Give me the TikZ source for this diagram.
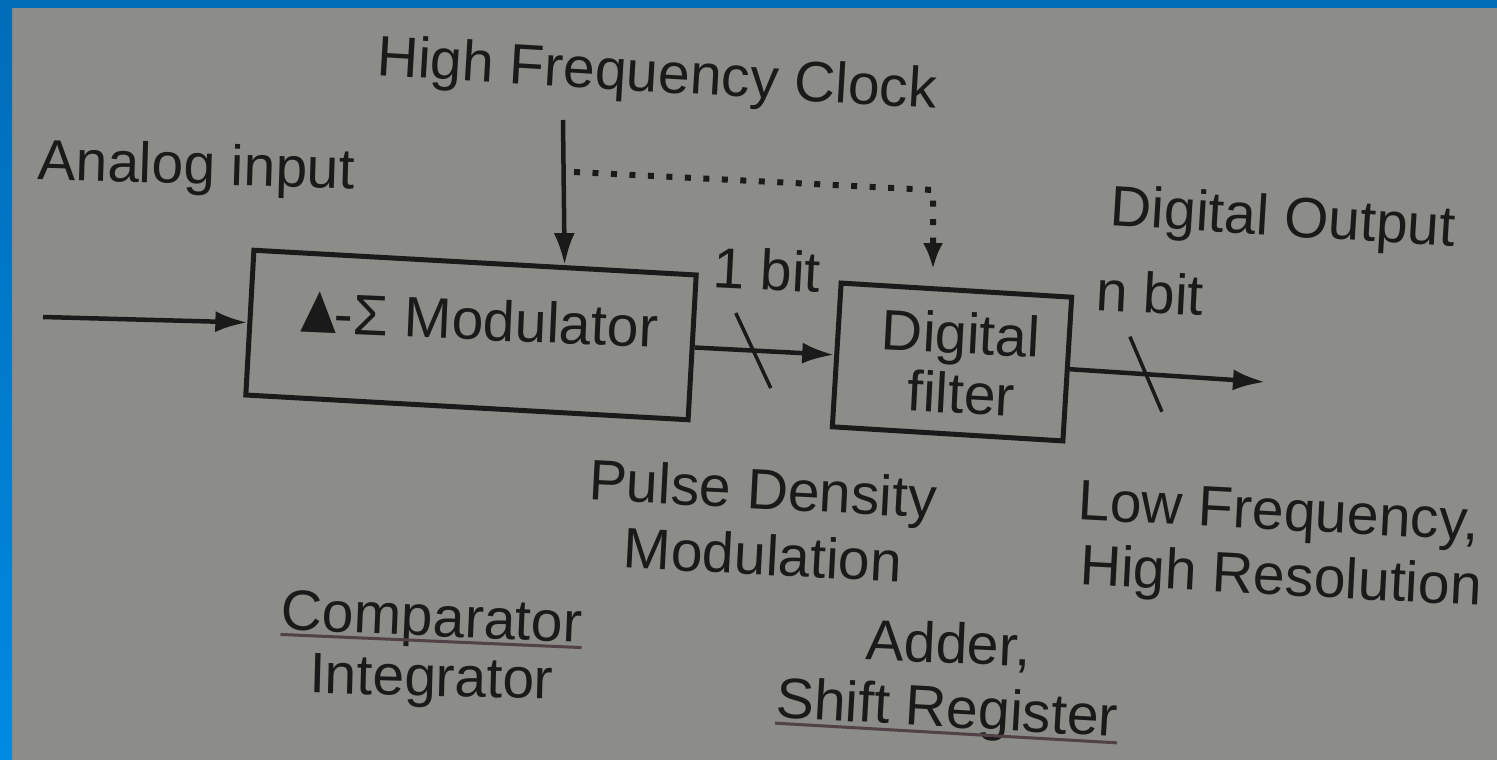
\documentclass[tikz,border=0pt]{standalone}
\usepackage{fontspec}
\setmainfont{Liberation Sans}
\usepackage{graphicx}
\usetikzlibrary{arrows.meta,calc}
\definecolor{paper}{RGB}{140,140,136}
\definecolor{ink}{RGB}{26,26,26}
\definecolor{frameA}{RGB}{0,108,184}
\definecolor{frameB}{RGB}{0,138,226}
\definecolor{uline}{RGB}{80,66,70}
\begin{document}
\begin{tikzpicture}[x=1pt,y=-1pt,
  lbl/.style={text=ink, font=\fontsize{57}{62}\selectfont, inner sep=0pt, anchor=base},
  blk/.style={draw=ink, line width=5pt, inner sep=0pt},
  conn/.style={draw=ink, line width=4.5pt, -{Latex[length=32pt,width=21pt]}},
  slashmark/.style={draw=ink, line width=3.5pt},
  dotline/.style={draw=ink, line width=6pt, dash pattern=on 6pt off 12.5pt, -{Latex[length=26pt,width=20pt]}},
  undl/.style={draw=uline, line width=3pt}]
% background and frame
\useasboundingbox (0,0) rectangle (1497,760);
\fill[paper] (0,0) rectangle (1497,760);
\shade[top color=frameA, bottom color=frameB] (0,0) rectangle (12,760);
\fill[frameA] (0,0) rectangle (1497,8);

% blocks
\node[blk, minimum width=443pt, minimum height=145pt, rotate=-3.2] (mod) at (471,335) {};
\node[blk, minimum width=231pt, minimum height=144pt, rotate=-3.5] (filt) at (952,362) {};
\node[lbl, rotate=-2.5] (modtxt) at (480,340) {\hspace*{-14pt}\resizebox{60pt}{41pt}{▲}\hspace{-15pt}-Σ Modulator};
\node[lbl, rotate=-3] (filt1) at (960,353.5) {Digital};
\node[lbl, rotate=-3] (filt2) at (960,413.5) {filter};

% labels
\node[lbl, rotate=-3.4] (hfc) at (656,92) {High Frequency Clock};
\node[lbl, rotate=-1.8] (ain) at (196,184) {Analog input};
\node[lbl, rotate=-3.5] (dout) at (1282,236) {Digital Output};
\node[lbl, rotate=-3] (b1) at (766,290) {1 bit};
\node[lbl, rotate=-3] (nb) at (1149,313) {n bit};
\node[lbl, rotate=-3] (pd1) at (762,509) {Pulse Density};
\node[lbl, rotate=-3] (pd2) at (762,575) {Modulation};
\node[lbl, rotate=-3] (lf1) at (1278,530) {Low Frequency,};
\node[lbl, rotate=-3] (lf2) at (1280,595) {High Resolution};
\node[lbl, rotate=-2.5] (cmp) at (431,636) {Comparator};
\node[lbl, rotate=-1.5] (intg) at (431,696) {Integrator};
\node[lbl, rotate=-2.5] (add) at (948,663) {Adder,};
\node[lbl, rotate=-3.3] (sreg) at (946,727) {Shift Register};

% underlines
\draw[undl] ($(cmp.base west)+(0,5)$) coordinate (c1) -- ($(cmp.base east)+(0,5)$) coordinate (c2);
\draw[undl] ($(sreg.base west)+(0,6)$) coordinate (s1) -- ($(sreg.base east)+(0,6)$) coordinate (s2);

% connectors
\coordinate (inp) at (43,317);
\draw[conn] (inp) -- (mod.west);

\coordinate (clk) at (563,120);
\coordinate (modtop) at ($(mod.north west)!0.7!(mod.north east)$);
\draw[conn] (clk) -- (modtop);

\coordinate (dstart) at (574,172);
\coordinate (dcorner) at (933,190);
\coordinate (ftop) at ($(filt.north west)!0.4!(filt.north east)$);
\draw[dotline, shorten >=17pt] (dstart) -- (dcorner) -- (ftop);

\draw[conn] (mod.east) -- (filt.west);
\coordinate (sl1) at ($(mod.east)!0.42!(filt.west)$);
\draw[slashmark] ($(sl1)+(-17.5,-37.5)$) -- ($(sl1)+(17.5,37.5)$);

\coordinate (outp) at (1265,382);
\draw[conn] (filt.east) -- (outp);
\coordinate (sl2) at ($(filt.east)!0.39!(outp)$);
\draw[slashmark] ($(sl2)+(-16,-37.5)$) -- ($(sl2)+(16,37.5)$);
\end{tikzpicture}
\end{document}
